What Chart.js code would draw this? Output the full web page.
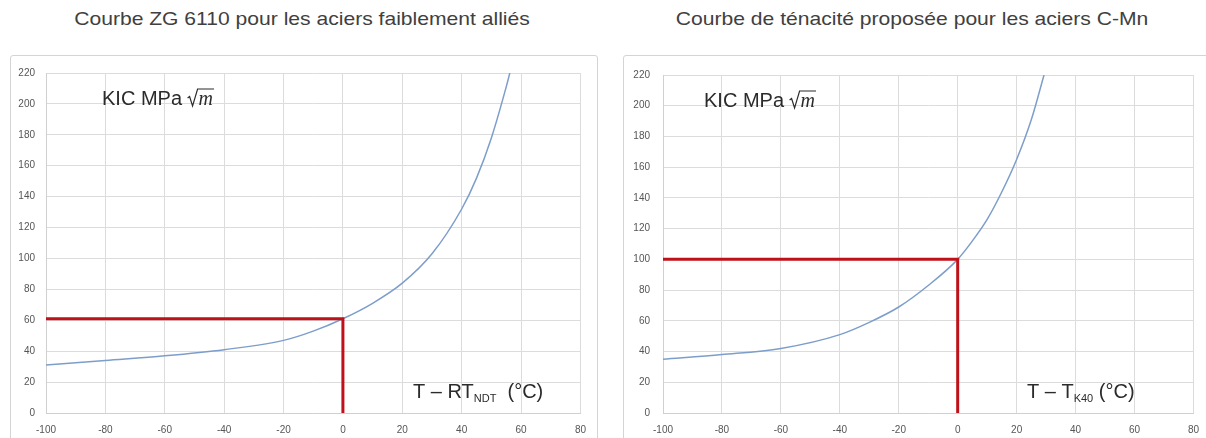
<!DOCTYPE html>
<html>
<head>
<meta charset="utf-8">
<script src="https://cdn.jsdelivr.net/npm/chart.js@4.4.1/dist/chart.umd.min.js"></script>
<style>
  body { margin: 0; background: #fff; width: 1206px; height: 438px; overflow: hidden; position: relative;
         font-family: "Liberation Sans", Arial, sans-serif; }
  .title { position: absolute; top: 8px; width: 600px; text-align: center; font-size: 19px; color: #404040;
           transform: scaleX(1.11); }
  .box { position: absolute; top: 55px; height: 420px; border: 1px solid #d4d4d4; border-radius: 3px; }
  .box canvas { display: block; }
</style>
</head>
<body>
<div class="title" style="left:2px">Courbe ZG 6110 pour les aciers faiblement alliés</div>
<div class="title" style="left:612px">Courbe de ténacité proposée pour les aciers C-Mn</div>
<div class="box" style="left:10px;width:586px"><canvas id="zg" width="586" height="382"></canvas></div>
<div class="box" style="left:623px;width:600px"><canvas id="cmn" width="586" height="382"></canvas></div>

<script>
// ZG 6110 curve (low alloy steels): T - RTNDT (°C) vs KIC
const tempsZG = [-100, -80, -60, -40, -20, -10, 0, 10, 20, 30, 40, 45, 50, 55, 57];
const kicZG   = [31, 34, 37, 41, 47, 53, 61, 71, 84, 103, 132, 152, 178, 211, 226];
const refZG = 61;

// proposed toughness curve for C-Mn steels: T - TK40 (°C) vs KIC
const tempsCMn = [-100, -80, -60, -40, -30, -20, -10, 0, 5, 10, 15, 20, 25, 29.3];
const kicCMn   = [35, 38, 42, 51, 59, 69, 83, 100, 112, 126, 144, 165, 191, 220];
const refCMn = 100;

const xTicks = [-100, -80, -60, -40, -20, 0, 20, 40, 60, 80];
const yTicks = [0, 20, 40, 60, 80, 100, 120, 140, 160, 180, 200, 220];

const FONT = '"Liberation Sans", Arial, sans-serif';

const notes = {
  id: 'notes',
  afterDraw(chart, args, o) {
    const ctx = chart.ctx, a = chart.chartArea;
    ctx.save();
    ctx.fillStyle = '#2b2b2b';
    ctx.strokeStyle = '#2b2b2b';
    ctx.textBaseline = 'alphabetic';

    // KIC MPa √m
    let x = a.left + o.kicX, y = a.top + o.kicY;
    ctx.font = '20px ' + FONT;
    ctx.fillText('KIC MPa ', x, y);
    x += ctx.measureText('KIC MPa ').width;
    ctx.font = 'italic 20px "Liberation Serif", serif';
    const mw = ctx.measureText('m').width;
    ctx.lineWidth = 1.2;
    ctx.beginPath();
    ctx.moveTo(x, y - 7);
    ctx.lineTo(x + 2, y - 8.5);
    ctx.lineTo(x + 5, y + 1);
    ctx.lineTo(x + 10, y - 16);
    ctx.lineTo(x + 12 + mw, y - 16);
    ctx.stroke();
    ctx.fillText('m', x + 11, y);

    // axis label with subscript
    x = a.left + o.axX; y = a.bottom - 15;
    ctx.font = '20px ' + FONT;
    ctx.fillText(o.main, x, y);
    x += ctx.measureText(o.main).width;
    ctx.font = '11px ' + FONT;
    ctx.fillText(o.sub, x, y + 4);
    x += ctx.measureText(o.sub).width;
    ctx.font = '20px ' + FONT;
    ctx.fillText(o.tail, x, y);
    ctx.restore();
  }
};

function makeChart(id, temps, kic, ref, note, yPad) {
  const curve = temps.map((t, i) => ({ x: t, y: kic[i] }));
  const refLine = [{ x: xTicks[0], y: ref }, { x: 0, y: ref }, { x: 0, y: 0 }];
  return new Chart(document.getElementById(id), {
    type: 'scatter',
    data: {
      datasets: [
        { data: refLine, showLine: true, borderColor: '#bf1119', borderWidth: 3, pointRadius: 0, tension: 0, order: 0 },
        { data: curve, showLine: true, borderColor: '#7d9ecb', borderWidth: 1.5, pointRadius: 0,
          cubicInterpolationMode: 'monotone', order: 1 }
      ]
    },
    options: {
      responsive: false,
      animation: false,
      layout: { padding: { top: note.top, right: 15, left: 0, bottom: 0 } },
      plugins: { legend: { display: false }, tooltip: { enabled: false }, notes: note },
      scales: {
        x: {
          type: 'linear', min: -100, max: 80,
          afterBuildTicks: s => { s.ticks = xTicks.map(v => ({ value: v })); },
          afterFit: s => { s.height = 25; },
          grid: { color: '#dcdcdc', drawTicks: false },
          border: { color: '#d0d0d0' },
          ticks: { padding: 11, maxRotation: 0, color: '#555', font: { family: FONT, size: 10 } }
        },
        y: {
          min: 0, max: 220,
          afterBuildTicks: s => { s.ticks = yTicks.map(v => ({ value: v })); },
          afterFit: s => { s.width = note.yw; },
          grid: { color: '#dcdcdc', drawTicks: false },
          border: { color: '#d0d0d0' },
          ticks: { padding: yPad, color: '#555', font: { family: FONT, size: 10 } }
        }
      }
    },
    plugins: [notes]
  });
}

makeChart('zg', tempsZG, kicZG, refZG,
  { kicX: 56, kicY: 32, axX: 367, main: 'T \u2013 RT', sub: 'NDT', tail: '  (°C)', top: 12, yw: 35 }, 11);
makeChart('cmn', tempsCMn, kicCMn, refCMn,
  { kicX: 41, kicY: 32, axX: 364, main: 'T \u2013 T', sub: 'K40', tail: ' (°C)', top: 13, yw: 39 }, 13);
</script>
</body>
</html>
